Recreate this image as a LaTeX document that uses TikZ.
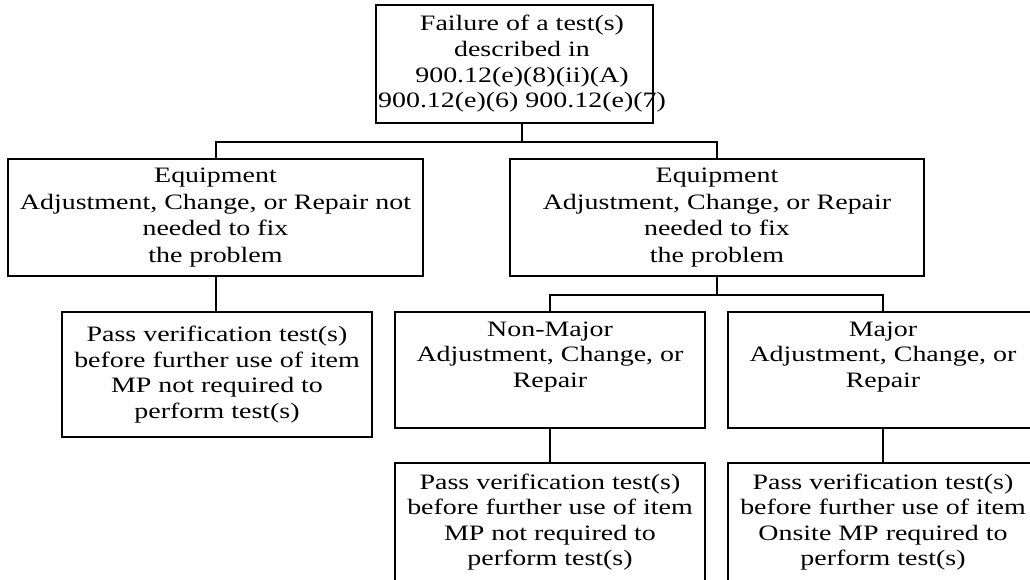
\documentclass[tikz,border=0pt]{standalone}
\usepackage{fontspec}
\setmainfont{Liberation Serif}[FakeStretch=1.27]
\begin{document}
\begin{tikzpicture}[x=0.75pt,y=-0.75pt,
  box/.style={draw=black,line width=1.5pt,inner sep=0pt,rectangle},
  txt/.style={align=center,inner sep=0pt,font=\fontsize{16.5pt}{19.2pt}\selectfont},
  widetxt/.style={align=center,inner sep=0pt,font=\fontsize{16.5pt}{19.8pt}\selectfont},
  conn/.style={draw=black,line width=1.5pt}]
\useasboundingbox (0,0) rectangle (1030,580);
\clip (0,0) rectangle (1030,580);
% boxes
\node[box,minimum width=207.75pt,minimum height=88.5pt] (top) at (514.5,64) {};
\node[txt] (toptext) at (522,64) {Failure of a test(s)\\described in\\900.12(e)(8)(ii)(A)\\900.12(e)(6) 900.12(e)(7)};
\node[box,widetxt,minimum width=311.25pt,minimum height=87.75pt] (L) at (215.5,217.5) {Equipment\\Adjustment, Change, or Repair not\\needed to fix\\the problem};
\node[box,widetxt,minimum width=310.5pt,minimum height=87.75pt] (R) at (717,217.5) {Equipment\\Adjustment, Change, or Repair\\needed to fix\\the problem};
\node[box,txt,minimum width=232.5pt,minimum height=93.75pt] (LC) at (217,374.5) {Pass verification test(s)\\before further use of item\\MP not required to\\perform test(s)};
\node[box,minimum width=232.5pt,minimum height=87pt] (NM) at (550,370) {};
\node[txt] (NMtext) at (550,357) {Non-Major\\Adjustment, Change, or\\Repair};
\node[box,minimum width=232.5pt,minimum height=87pt] (MJ) at (883,370) {};
\node[txt] (MJtext) at (883,357) {Major\\Adjustment, Change, or\\Repair};
\node[box,txt,minimum width=232.5pt,minimum height=88.5pt] (B1) at (550,522) {Pass verification test(s)\\before further use of item\\MP not required to\\perform test(s)};
\node[box,txt,minimum width=232.5pt,minimum height=88.5pt] (B2) at (883,522) {Pass verification test(s)\\before further use of item\\Onsite MP required to\\perform test(s)};
% connectors
\draw[conn] (toptext |- top.south) -- ++(0,18) -| (L.north);
\draw[conn] (toptext |- top.south) -- ++(0,18) -| (R.north);
\draw[conn] (L.south) -- (L.south |- LC.north);
\draw[conn] (R.south) -- ++(0,18) -| (NM.north);
\draw[conn] (R.south) -- ++(0,18) -| (MJ.north);
\draw[conn] (NM.south) -- (B1.north);
\draw[conn] (MJ.south) -- (B2.north);
\end{tikzpicture}
\end{document}
